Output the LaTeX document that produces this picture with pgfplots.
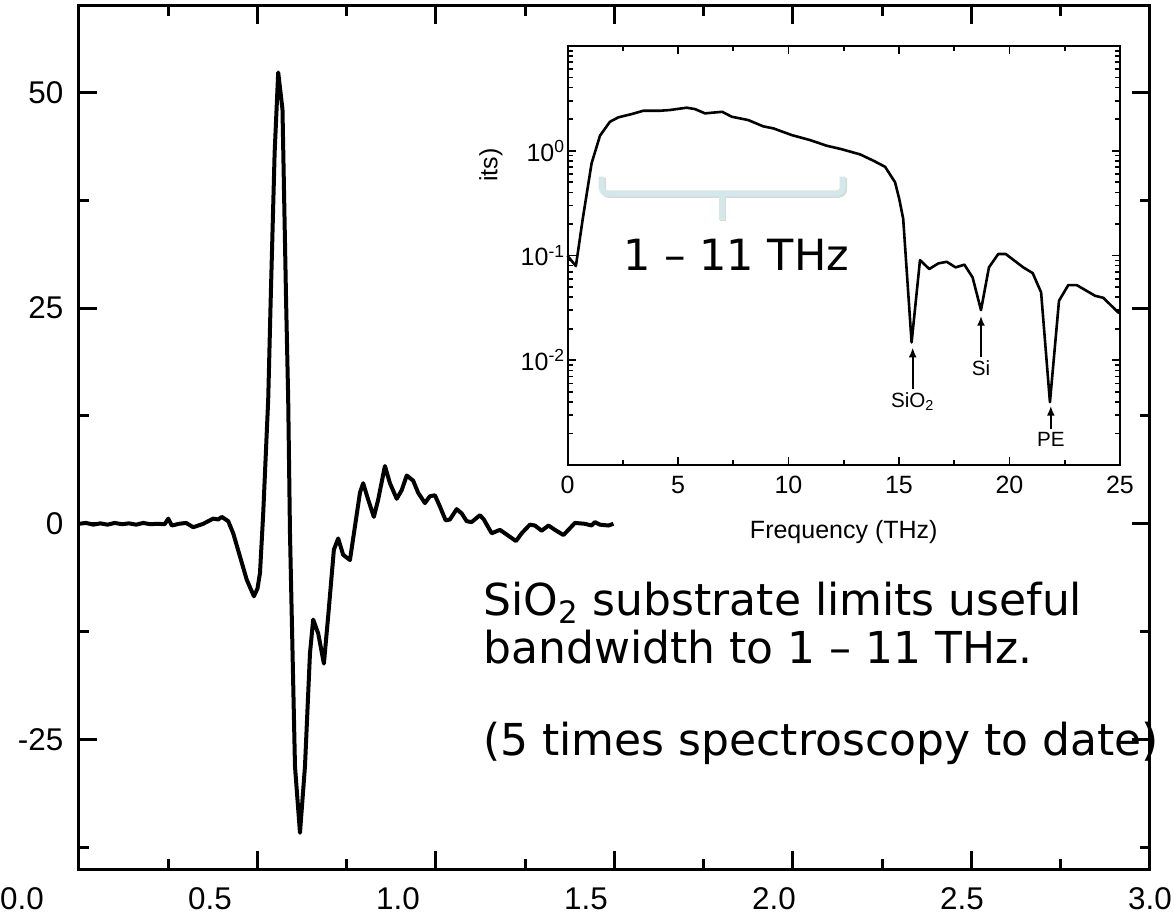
\documentclass[border=0pt]{standalone}
\usepackage{pgfplots}
\pgfplotsset{compat=1.18}
\usepackage{fontspec}
\setmainfont{Liberation Sans}
\newfontfamily\verd{DejaVu Sans}
\usetikzlibrary{arrows.meta}
\definecolor{bracec}{RGB}{212,232,235}

\begin{document}
\begin{tikzpicture}
\begin{axis}[
  at={(0pt,0pt)}, anchor=south west, scale only axis,
  width=535.5pt, height=431.5pt,
  xmin=0, xmax=3, ymin=-40, ymax=60,
  xtick={0,0.5,1,1.5,2,2.5,3},
  xticklabels={},
  minor xtick={0.25,0.75,1.25,1.75,2.25,2.75},
  ytick={-25,0,25,50}, yticklabels={-25,0,25,50},
  minor ytick={-37.5,-12.5,12.5,37.5},
  tick align=inside,
  major tick length=9pt, minor tick length=5pt,
  axis line style={line width=1.5pt},
  every tick/.append style={line width=1.5pt, black},
  ticklabel style={font=\fontsize{15.7}{17}\selectfont},
  yticklabel style={xshift=-4.3pt},
]
\addplot[line width=2pt, line join=round, mark=none, black] coordinates {
(0,0) (0.02,0.1) (0.04,-0.1) (0.06,0.05) (0.08,-0.1) (0.10,0.1) (0.12,-0.05)
(0.14,0.05) (0.16,-0.1) (0.18,0.1) (0.20,-0.05) (0.22,0.0) (0.24,-0.05)
(0.25,0.6) (0.26,-0.2) (0.28,0.0) (0.30,0.1) (0.32,-0.4) (0.348,0.0)
(0.376,0.6) (0.39,0.5) (0.40,0.8) (0.418,0.3) (0.432,-1.1) (0.451,-3.8)
(0.470,-6.5) (0.490,-8.4) (0.500,-7.5) (0.507,-5.7) (0.516,1.2) (0.530,14.4)
(0.537,26) (0.548,43) (0.558,52.3) (0.570,48) (0.580,26) (0.586,14.4)
(0.591,-1.1) (0.605,-28.1) (0.619,-35.8) (0.633,-28.1) (0.647,-15)
(0.656,-11.1) (0.670,-12.7) (0.686,-16.2) (0.698,-10.7) (0.714,-3.0)
(0.726,-1.7) (0.740,-3.6) (0.759,-4.2) (0.773,-0.3) (0.787,3.6) (0.796,4.7)
(0.810,2.8) (0.826,0.8) (0.838,2.8) (0.857,6.7) (0.871,4.7) (0.890,2.9)
(0.904,3.9) (0.918,5.6) (0.936,5.0) (0.950,3.6) (0.969,2.4) (0.983,3.2)
(0.997,3.3) (1.011,2.0) (1.027,0.4) (1.039,0.5) (1.058,1.7) (1.072,1.2)
(1.086,0.3) (1.100,0.2) (1.123,1.0) (1.134,0.5) (1.156,-1.1) (1.179,-0.7)
(1.193,-1.1) (1.224,-2.0) (1.240,-1.1) (1.263,-0.1) (1.277,-0.2) (1.296,-0.8)
(1.315,-0.2) (1.333,-0.7) (1.357,-1.3) (1.371,-0.7) (1.389,0.1) (1.417,0.0)
(1.436,-0.2) (1.445,0.2) (1.459,-0.1) (1.483,-0.2) (1.497,0.0)
};
\end{axis}

% x tick labels of the main axis (placed as in the reference, spread wider than the ticks)
\foreach \xx/\lab in {-28.5pt/0.0, 65.5pt/0.5, 159.5pt/1.0, 253.5pt/1.5, 347.5pt/2.0, 441.5pt/2.5, 535.5pt/3.0}
  \node[anchor=north, inner sep=0pt, font=\fontsize{15.7}{17}\selectfont] at (\xx,-9pt) {\lab};

\begin{axis}[
  at={(244.25pt,202pt)}, anchor=south west, scale only axis,
  width=276.25pt, height=209.5pt,
  axis background/.style={fill=white},
  xmin=0, xmax=25, ymode=log, ymin=1e-3, ymax=10,
  xtick={0,5,10,15,20,25}, xticklabels={0,5,10,15,20,25},
  minor xtick={2.5,7.5,12.5,17.5,22.5},
  ytick={1e-3,1e-2,1e-1,1,10},
  yticklabels={,10\textsuperscript{-2},10\textsuperscript{-1},10\textsuperscript{0},},
  minor ytick={2e-3,3e-3,4e-3,5e-3,6e-3,7e-3,8e-3,9e-3,
               2e-2,3e-2,4e-2,5e-2,6e-2,7e-2,8e-2,9e-2,
               0.2,0.3,0.4,0.5,0.6,0.7,0.8,0.9,
               2,3,4,5,6,7,8,9},
  tick align=inside,
  major tick length=4pt, minor tick length=2.5pt,
  axis line style={line width=1pt},
  every tick/.append style={line width=0.8pt, black},
  ticklabel style={font=\fontsize{12.5}{14}\selectfont},
  xticklabel style={yshift=-2pt},
  yticklabel style={inner sep=1pt},
  clip=false,
]
\addplot[line width=1.3pt, line join=round, mark=none, black] coordinates {
(0,0.0993) (0.38,0.0794) (0.69,0.224) (1.09,0.759) (1.47,1.393) (1.92,1.892)
(2.30,2.084) (2.90,2.239) (3.43,2.410) (4.19,2.410) (4.64,2.449) (5.39,2.576)
(5.77,2.500) (6.22,2.275) (7.00,2.355) (7.43,2.113) (8.18,1.963) (8.86,1.710)
(9.31,1.637) (10.14,1.413) (10.97,1.265) (11.73,1.117) (12.4,1.035)
(13.24,0.923) (13.84,0.804) (14.37,0.703) (14.82,0.501) (15.01,0.347)
(15.19,0.224) (15.57,0.01479) (15.95,0.0904) (16.37,0.0743) (16.78,0.0841)
(17.16,0.0871) (17.56,0.0771) (17.96,0.0817) (18.33,0.0618) (18.71,0.0301)
(19.07,0.0771) (19.49,0.1033) (19.83,0.1033) (20.62,0.0771) (21.05,0.0679)
(21.43,0.0445) (21.83,0.00398) (22.24,0.0370) (22.66,0.0522) (23.04,0.0522)
(23.87,0.0413) (24.24,0.0395) (24.96,0.0281)
};
\draw[line width=1pt, -{Latex[length=5pt,width=4pt]}] (axis cs:15.62,0.00531) -- (axis cs:15.62,0.01327);
\draw[line width=1pt, -{Latex[length=5pt,width=4pt]}] (axis cs:18.71,0.01067) -- (axis cs:18.71,0.02661);
\draw[line width=1pt, -{Latex[length=5pt,width=4pt]}] (axis cs:21.87,0.002203) -- (axis cs:21.87,0.003681);
\node[anchor=north, inner sep=1.5pt, font=\fontsize{10.3}{12}\selectfont] at (axis cs:15.62,0.00531) {SiO\textsubscript{2}};
\node[anchor=north, inner sep=1.5pt, font=\fontsize{10.3}{12}\selectfont] at (axis cs:18.71,0.01067) {Si};
\node[anchor=north, inner sep=1.5pt, font=\fontsize{10.3}{12}\selectfont] at (axis cs:21.87,0.002203) {PE};
\node[anchor=base, yshift=-36.5pt, font=\fontsize{12.5}{14}\selectfont] at (rel axis cs:0.5,0) {Frequency (THz)};
\end{axis}

% y-label fragment of inset
\node[rotate=90, font=\fontsize{12.5}{14}\selectfont] at (206pt,352pt) {its)};

% brace
\draw[gray!30, line width=3pt, rounded corners=3pt] (262.1pt,345.4pt) -- (262.1pt,337.1pt) -- (382.6pt,337.1pt) -- (382.6pt,345.4pt);
\draw[gray!30, line width=3pt] (322.1pt,337.1pt) -- (322.1pt,323.8pt);
\draw[bracec, line width=3pt, rounded corners=3pt] (261.35pt,346.15pt) -- (261.35pt,337.85pt) -- (381.85pt,337.85pt) -- (381.85pt,346.15pt);
\draw[bracec, line width=3pt] (321.35pt,337.85pt) -- (321.35pt,324.5pt);
\node[anchor=base west, inner sep=0pt, font=\verd\fontsize{21.5}{25}\selectfont] at (272pt,299.5pt) {1 – 11 THz};

% annotations
\node[anchor=base west, inner sep=0pt, font=\verd\fontsize{22}{25}\selectfont] at (202pt,127pt) {SiO\textsubscript{2} substrate limits useful};
\node[anchor=base west, inner sep=0pt, font=\verd\fontsize{22}{25}\selectfont] at (202pt,103pt) {bandwidth to 1 – 11 THz.};
\node[anchor=base west, inner sep=0pt, font=\verd\fontsize{22}{25}\selectfont] at (202pt,57pt) {(5 times spectroscopy to date)};

\pgfresetboundingbox
\path[use as bounding box] (-39.5pt,-24.5pt) rectangle (548pt,434.5pt);
\end{tikzpicture}
\end{document}
